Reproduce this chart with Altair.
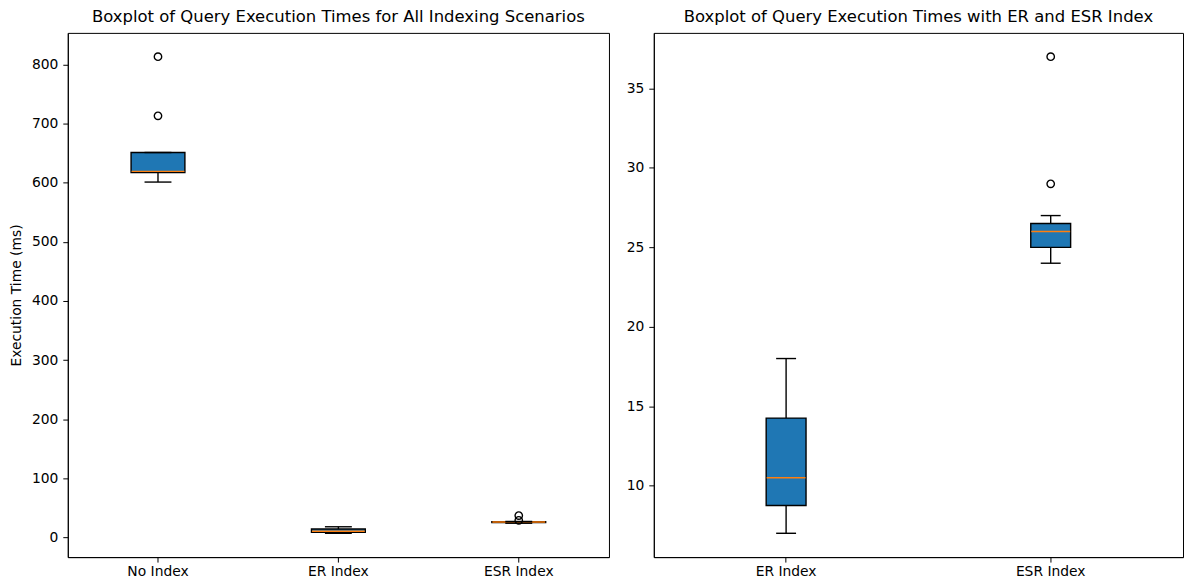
import altair as alt
import pandas as pd

# ---- data ----
categories_all = ["No Index", "ER Index", "ESR Index"]
whisker_low = [601, 7, 24]
q1 = [617, 8.75, 25]
median = [619, 10.5, 26]
q3 = [651, 14.25, 26.5]
whisker_high = [651, 18, 27]

outlier_cat = ["No Index", "No Index", "ESR Index", "ESR Index"]
outlier_val = [813, 713, 37, 29]

categories_right = ["ER Index", "ESR Index"]

stats = pd.DataFrame({
    "cat": categories_all,
    "lo": whisker_low,
    "q1": q1,
    "med": median,
    "q3": q3,
    "hi": whisker_high,
})
outliers = pd.DataFrame({"cat": outlier_cat, "val": outlier_val})

BLUE = "#1f77b4"
ORANGE = "#ff7f0e"
FONT = "DejaVu Sans"
FS = 13.9
LW = 1.4


def panel(cats, ydomain, yticks, box_w, width, title, ytitle):
    s = stats[stats["cat"].isin(cats)]
    o = outliers[outliers["cat"].isin(cats)]
    xenc = alt.X(
        "cat:N",
        sort=cats,
        scale=alt.Scale(domain=cats, paddingInner=0, paddingOuter=0),
        axis=alt.Axis(title=None, labelAngle=0, ticks=True, tickSize=5,
                      labelPadding=2, labelFontSize=FS, labelColor="#000",
                      domainColor="#000", tickColor="#000", labelFont=FONT),
    )
    yscale = alt.Scale(domain=ydomain, nice=False, zero=False)
    yaxis = alt.Axis(values=yticks, grid=False, tickSize=5, labelPadding=5,
                     labelFontSize=FS, labelColor="#000", domainColor="#000",
                     tickColor="#000", labelFont=FONT,
                     title=ytitle if ytitle else None,
                     titleFontSize=FS, titleFontWeight="normal",
                     titleColor="#000", titleFont=FONT, titlePadding=8)
    base = alt.Chart(s)
    whisk = base.mark_rule(color="#000", strokeWidth=LW).encode(
        x=xenc, y=alt.Y("lo:Q", scale=yscale, axis=yaxis), y2="hi:Q")
    box = base.mark_bar(size=box_w, fill=BLUE, stroke="#000", strokeWidth=LW,
                        opacity=1).encode(
        x=xenc, y=alt.Y("q1:Q", scale=yscale), y2="q3:Q")
    med = base.mark_tick(color=ORANGE, size=box_w - 1, thickness=LW, opacity=1).encode(
        x=xenc, y=alt.Y("med:Q", scale=yscale))
    cap_lo = base.mark_tick(color="#000", size=box_w / 2, thickness=LW, opacity=1).encode(
        x=xenc, y=alt.Y("lo:Q", scale=yscale))
    cap_hi = base.mark_tick(color="#000", size=box_w / 2, thickness=LW, opacity=1).encode(
        x=xenc, y=alt.Y("hi:Q", scale=yscale))
    pts = alt.Chart(o).mark_point(shape="circle", filled=False, color="#000",
                                  size=55, strokeWidth=LW, opacity=1).encode(
        x=xenc, y=alt.Y("val:Q", scale=yscale))
    return alt.layer(whisk, box, med, cap_lo, cap_hi, pts).properties(
        width=width, height=526,
        title=alt.TitleParams(title, fontSize=16.5, fontWeight="normal",
                              color="#000", font=FONT, offset=7),
    )


left = panel(categories_all, [-33.3, 853.3], [0, 100, 200, 300, 400, 500, 600, 700, 800],
             54, 543, "Boxplot of Query Execution Times for All Indexing Scenarios",
             "Execution Time (ms)")
right = panel(categories_right, [5.5, 38.5], [10, 15, 20, 25, 30, 35],
              40, 531, "Boxplot of Query Execution Times with ER and ESR Index", None)

chart = alt.hconcat(left, right, spacing=15).properties(
    padding={"left": 0, "top": 0, "right": 0, "bottom": 0},
    background="white",
).configure_view(stroke="#000", strokeWidth=1)

chart.save("out.html", embed_options={"renderer": "svg", "actions": False})
